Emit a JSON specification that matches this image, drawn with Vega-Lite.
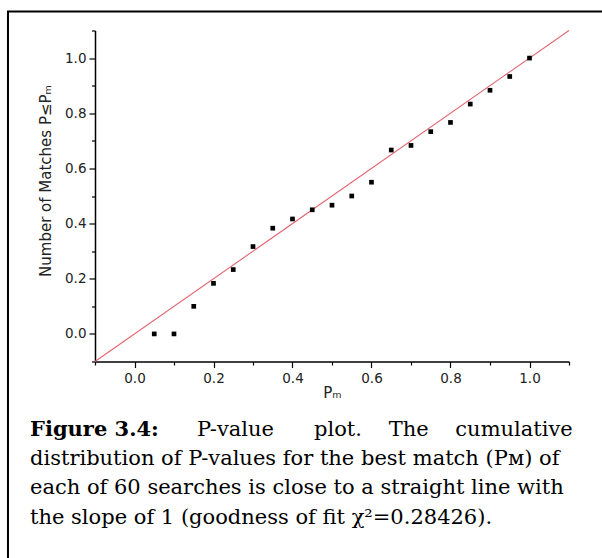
{
  "$schema": "https://vega.github.io/schema/vega-lite/v6.json",
  "width": 474,
  "height": 331,
  "autosize": {"type": "none"},
  "padding": {"left": 95, "top": 30.5, "right": 33, "bottom": 196.5},
  "background": "white",
  "config": {
    "view": {"stroke": null},
    "axis": {
      "grid": false,
      "domainColor": "black",
      "domainWidth": 1.5,
      "tickColor": "black",
      "tickWidth": 1.2,
      "tickSize": 6,
      "labelFont": "DejaVu Sans",
      "labelFontSize": 13.5,
      "labelColor": "#222222",
      "labelOverlap": false,
      "labelFlush": false,
      "titleFont": "DejaVu Sans",
      "titleFontWeight": "normal",
      "titleColor": "#222222"
    }
  },
  "title": {
    "text": "Figure 3.4:",
    "subtitle": [
      "\u200d\u00a0\u00a0\u00a0\u00a0\u00a0\u00a0\u00a0\u00a0\u00a0\u00a0\u00a0\u00a0\u00a0\u00a0\u00a0\u00a0\u00a0\u00a0\u00a0\u00a0\u00a0\u00a0\u00a0\u00a0\u00a0P-value\u00a0\u00a0\u00a0\u00a0\u00a0\u00a0plot.\u00a0\u00a0\u00a0\u00a0The\u00a0\u00a0\u00a0\u00a0cumulative",
      "distribution of P-values for the best match (Pᴍ) of",
      "each of 60 searches is close to a straight line with",
      "the slope of 1 (goodness of fit χ²=0.28426)."
    ],
    "orient": "bottom",
    "anchor": "start",
    "frame": "group",
    "dx": -65,
    "dy": -163,
    "offset": 18,
    "font": "DejaVu Serif",
    "fontSize": 21,
    "fontWeight": "bold",
    "color": "black",
    "subtitleFont": "DejaVu Serif",
    "subtitleFontSize": 21,
    "subtitleFontWeight": "normal",
    "subtitleColor": "black",
    "subtitleLineHeight": 29.3,
    "subtitlePadding": -21
  },
  "resolve": {"axis": {"x": "independent", "y": "independent"}},
  "layer": [
    {
      "data": {"values": [{}]},
      "mark": {"type": "rect", "fill": null, "stroke": "black", "strokeWidth": 2, "clip": false},
      "encoding": {
        "x": {"datum": -0.3203, "type": "quantitative", "scale": {"domain": [-0.1, 1.1], "nice": false, "zero": false}, "axis": null},
        "x2": {"datum": 1.19},
        "y": {"datum": 1.1685, "type": "quantitative", "scale": {"domain": [-0.1, 1.1], "nice": false, "zero": false}, "axis": null},
        "y2": {"datum": -0.83}
      }
    },
    {
      "data": {"values": [{}]},
      "mark": {"type": "rule", "color": "#e36570", "strokeWidth": 1.1, "clip": false},
      "encoding": {
        "x": {
          "datum": -0.1,
          "type": "quantitative",
          "scale": {"domain": [-0.1, 1.1], "nice": false, "zero": false},
          "axis": {"orient": "bottom", "offset": 0, "values": [-0.1, 0.1, 0.3, 0.5, 0.7, 0.9, 1.1], "labels": false, "domain": false, "title": null, "tickSize": 3.5}
        },
        "x2": {"datum": 1.1},
        "y": {
          "datum": -0.1,
          "type": "quantitative",
          "scale": {"domain": [-0.1, 1.1], "nice": false, "zero": false},
          "axis": {"orient": "left", "offset": 0, "values": [-0.1, 0.1, 0.3, 0.5, 0.7, 0.9, 1.1], "labels": false, "domain": false, "title": null, "tickSize": 3.5}
        },
        "y2": {"datum": 1.1}
      }
    },
    {
      "data": {
        "values": [
          {"PM": 0.05, "fraction": 0.0},
          {"PM": 0.10, "fraction": 0.0},
          {"PM": 0.15, "fraction": 0.1},
          {"PM": 0.20, "fraction": 0.1833},
          {"PM": 0.25, "fraction": 0.2333},
          {"PM": 0.30, "fraction": 0.3167},
          {"PM": 0.35, "fraction": 0.3833},
          {"PM": 0.40, "fraction": 0.4167},
          {"PM": 0.45, "fraction": 0.45},
          {"PM": 0.50, "fraction": 0.4667},
          {"PM": 0.55, "fraction": 0.5},
          {"PM": 0.60, "fraction": 0.55},
          {"PM": 0.65, "fraction": 0.6667},
          {"PM": 0.70, "fraction": 0.6833},
          {"PM": 0.75, "fraction": 0.7333},
          {"PM": 0.80, "fraction": 0.7667},
          {"PM": 0.85, "fraction": 0.8333},
          {"PM": 0.90, "fraction": 0.8833},
          {"PM": 0.95, "fraction": 0.9333},
          {"PM": 1.00, "fraction": 1.0}
        ]
      },
      "mark": {"type": "point", "shape": "square", "filled": true, "color": "black", "size": 22, "opacity": 1},
      "encoding": {
        "x": {
          "field": "PM",
          "type": "quantitative",
          "scale": {"domain": [-0.1, 1.1], "nice": false, "zero": false},
          "axis": {
            "orient": "bottom",
            "offset": 0,
            "title": "Pₘ",
            "titleFontSize": 15,
            "titlePadding": 0,
            "values": [0, 0.2, 0.4, 0.6, 0.8, 1.0],
            "format": ".1f",
            "labelPadding": 4
          }
        },
        "y": {
          "field": "fraction",
          "type": "quantitative",
          "scale": {"domain": [-0.1, 1.1], "nice": false, "zero": false},
          "axis": {
            "orient": "left",
            "offset": 0,
            "title": "Number of Matches P≤Pₘ",
            "titleFontSize": 15,
            "titleY": 150,
            "titlePadding": 11,
            "values": [0, 0.2, 0.4, 0.6, 0.8, 1.0],
            "format": ".1f",
            "labelPadding": 3
          }
        }
      }
    }
  ]
}
